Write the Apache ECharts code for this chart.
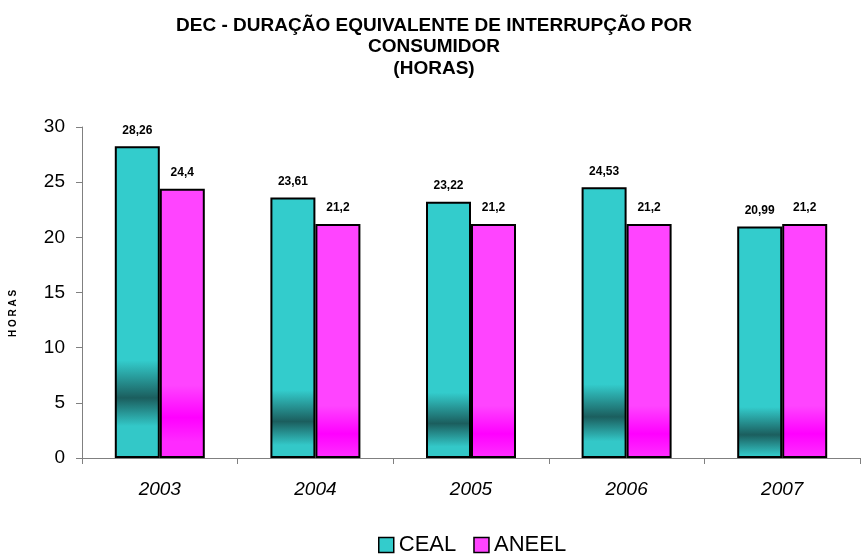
<!DOCTYPE html>
<html>
<head>
<meta charset="utf-8">
<script src="https://cdn.jsdelivr.net/npm/echarts@6/dist/echarts.min.js"></script>
<style>
  html, body { margin: 0; padding: 0; background: #fff; }
  #chart { width: 863px; height: 559px; }
</style>
</head>
<body>
<div id="chart"></div>
<script>
var years = ['2003', '2004', '2005', '2006', '2007']
var ceal = [28.26, 23.61, 23.22, 24.53, 20.99]
var aneel = [24.4, 21.2, 21.2, 21.2, 21.2]
var yTicks = [0, 5, 10, 15, 20, 25, 30]

// faixa escura do degradê: fica mais alta nas barras maiores
function bandFill(v, light, dark, below) {
  var c = 1 - (2.1 + 0.46 * (v - 20.99)) / v
  var hw = 0.1
  return new echarts.graphic.LinearGradient(0, 0, 0, 1, [
    { offset: 0, color: light },
    { offset: Math.max(0, c - hw * 1.2), color: light },
    { offset: c, color: dark },
    { offset: Math.min(1, c + hw * 0.9), color: below },
    { offset: 1, color: below }
  ])
}

function buildData(values, light, dark, below) {
  return values.map(function (v) {
    return {
      value: v,
      itemStyle: { color: bandFill(v, light, dark, below) }
    }
  })
}

function fmt(p) {
  return String(p.value).replace('.', ',')
}

var chart = echarts.init(document.getElementById('chart'), null, { renderer: 'canvas' })
var labelStyle = {
  show: true,
  position: 'top',
  distance: 10,
  formatter: fmt,
  fontFamily: 'Liberation Sans',
  fontWeight: 'bold',
  fontSize: 12,
  color: '#000'
}

chart.setOption({
  animation: false,
  backgroundColor: '#fff',
  title: {
    text: 'DEC - DURAÇÃO EQUIVALENTE DE INTERRUPÇÃO POR\nCONSUMIDOR\n(HORAS)',
    left: 429,
    top: 10,
    textAlign: 'center',
    textStyle: {
      fontFamily: 'Liberation Sans',
      fontWeight: 'bold',
      fontSize: 19,
      lineHeight: 21.5,
      color: '#000'
    }
  },
  legend: {
    left: 378,
    top: 534,
    padding: 0,
    itemWidth: 15,
    itemHeight: 15,
    itemGap: 17,
    icon: 'rect',
    textStyle: { fontFamily: 'Liberation Sans', fontSize: 22, color: '#000' },
    data: [
      { name: 'CEAL', itemStyle: { color: '#33CCCC', borderColor: '#000', borderWidth: 1.5 } },
      { name: 'ANEEL', itemStyle: { color: '#FF44FF', borderColor: '#000', borderWidth: 1.5 } }
    ]
  },
  grid: { left: 82, right: 3, top: 127, bottom: 101, containLabel: false },
  xAxis: {
    type: 'category',
    data: years,
    axisLine: { lineStyle: { color: '#808080', width: 1 } },
    axisTick: { show: true, length: 6, lineStyle: { color: '#808080' } },
    axisLabel: {
      fontFamily: 'Liberation Sans',
      fontStyle: 'italic',
      fontSize: 19,
      color: '#000',
      margin: 22
    }
  },
  yAxis: {
    type: 'value',
    min: yTicks[0],
    max: yTicks[yTicks.length - 1],
    interval: 5,
    name: 'H O R A S',
    nameLocation: 'middle',
    nameGap: 64,
    nameTextStyle: {
      fontFamily: 'Liberation Sans',
      fontWeight: 'bold',
      fontSize: 10,
      color: '#000',
      padding: [0, 42, 0, 0]
    },
    axisLine: { show: true, lineStyle: { color: '#808080', width: 1 } },
    axisTick: { show: true, length: 6, lineStyle: { color: '#808080' } },
    splitLine: { show: false },
    axisLabel: { fontFamily: 'Liberation Sans', fontSize: 19, color: '#000', margin: 17 }
  },
  series: [
    {
      name: 'CEAL',
      type: 'bar',
      data: buildData(ceal, '#33CCCC', '#1B5E5E', '#33C8C8'),
      barWidth: 45,
      barGap: '0%',
      itemStyle: { color: '#33CCCC', borderColor: '#000', borderWidth: 2 },
      label: labelStyle
    },
    {
      name: 'ANEEL',
      type: 'bar',
      data: buildData(aneel, '#FF44FF', '#FF00FF', '#FF2AFF'),
      barWidth: 45,
      itemStyle: { color: '#FF44FF', borderColor: '#000', borderWidth: 2 },
      label: labelStyle
    }
  ]
})
</script>
</body>
</html>
